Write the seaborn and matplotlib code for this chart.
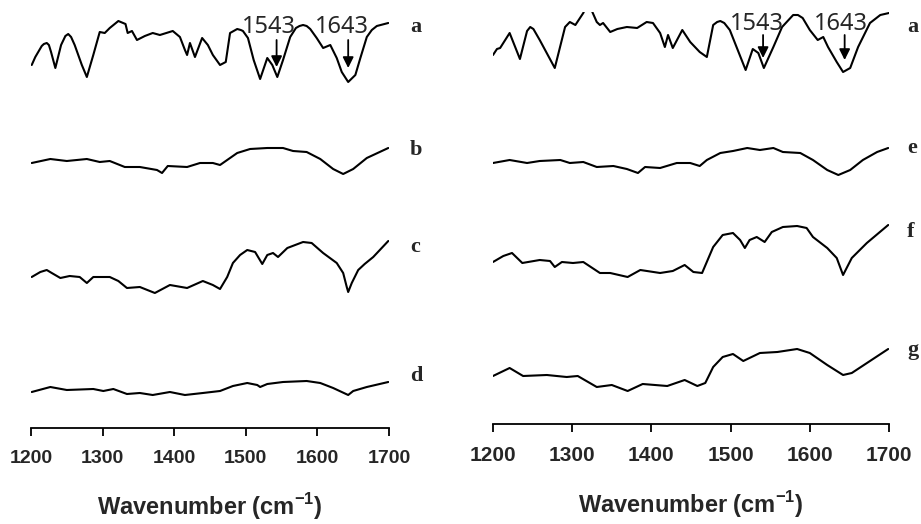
import matplotlib
matplotlib.use("Agg")
import matplotlib.pyplot as plt
import matplotlib.font_manager as fm
import seaborn as sns
import pandas as pd

# ---------------- data (wavenumber, offset intensity) ----------------
# left panel
wn_a1 = [1201, 1206, 1215, 1218, 1222, 1225, 1228, 1234, 1242, 1248, 1252, 1256, 1261, 1271, 1278, 1287,
         1296, 1303, 1310, 1322, 1332, 1335, 1341, 1348, 1359, 1370, 1380, 1398, 1408, 1415, 1418, 1422,
         1429, 1439, 1447, 1454, 1464, 1472, 1478, 1483, 1488, 1493, 1496, 1503, 1511, 1520, 1530, 1537,
         1544, 1552, 1562, 1570, 1575, 1580, 1585, 1590, 1599, 1608, 1618, 1627, 1634, 1643, 1653, 1660,
         1669, 1676, 1683, 1699]
a1 = [363, 371, 382, 384, 385, 383, 376, 360, 383, 392, 394, 391, 383, 363, 351, 373,
      396, 395, 400, 407, 404, 395, 397, 388, 392, 395, 393, 397, 391, 378, 373, 385,
      371, 390, 383, 373, 363, 366, 395, 397, 399, 398, 397, 390, 368, 349, 370, 363,
      351, 368, 391, 400, 402, 403, 402, 399, 390, 380, 383, 370, 356, 346, 353, 370,
      391, 398, 402, 405]

wn_b = [1201, 1227, 1250, 1278, 1296, 1310, 1331, 1352, 1376, 1383, 1391, 1418, 1436, 1454, 1464,
        1488, 1506, 1530, 1552, 1566, 1585, 1604, 1622, 1636, 1650, 1669, 1687, 1699]
b = [265, 269, 267, 269, 266, 267, 261, 261, 258, 255, 262, 261, 265, 265, 263,
     275, 279, 280, 280, 277, 276, 269, 259, 254, 259, 270, 276, 280]

wn_c = [1201, 1213, 1222, 1229, 1241, 1254, 1268, 1278, 1287, 1310, 1322, 1334, 1352, 1373, 1394,
        1418, 1440, 1454, 1464, 1474, 1482, 1492, 1502, 1513, 1523, 1530, 1538, 1545, 1558, 1580,
        1592, 1608, 1627, 1636, 1641, 1643, 1648, 1657, 1666, 1678, 1699]
c = [151, 156, 158, 155, 150, 152, 151, 145, 151, 151, 147, 140, 141, 135, 143,
     140, 147, 143, 139, 151, 165, 173, 178, 176, 164, 173, 175, 171, 180, 186,
     185, 175, 165, 155, 141, 136, 145, 158, 164, 171, 187]

wn_d = [1201, 1227, 1250, 1287, 1301, 1315, 1334, 1352, 1370, 1394, 1415, 1440, 1464, 1482, 1502,
        1516, 1520, 1530, 1552, 1585, 1604, 1622, 1643, 1650, 1669, 1699]
d = [36, 41, 38, 39, 37, 39, 34, 35, 33, 36, 33, 35, 37, 42, 45,
     43, 41, 44, 46, 47, 45, 40, 33, 37, 41, 46]

# right panel
wn_a2 = [1200, 1205, 1209, 1221, 1234, 1243, 1247, 1251, 1259, 1278, 1291, 1297, 1304, 1314, 1320,
         1326, 1331, 1335, 1339, 1348, 1357, 1369, 1382, 1394, 1402, 1411, 1417, 1421, 1427, 1439,
         1449, 1461, 1470, 1478, 1483, 1487, 1492, 1499, 1509, 1519, 1528, 1535, 1542, 1554, 1565,
         1579, 1585, 1591, 1600, 1610, 1617, 1623, 1634, 1642, 1651, 1661, 1676, 1689, 1700]
a2 = [369, 375, 376, 391, 365, 393, 397, 395, 384, 356, 397, 402, 399, 411, 422,
      411, 402, 399, 401, 392, 395, 397, 396, 402, 401, 391, 377, 389, 376, 394,
      382, 372, 367, 399, 402, 403, 401, 394, 374, 354, 375, 371, 356, 377, 397,
      409, 409, 406, 394, 384, 387, 377, 362, 352, 356, 377, 401, 409, 411]

wn_e = [1200, 1221, 1243, 1259, 1285, 1297, 1314, 1331, 1352, 1369, 1383, 1392, 1411, 1432, 1449,
        1461, 1470, 1487, 1503, 1521, 1537, 1554, 1566, 1588, 1604, 1622, 1636, 1651, 1667, 1685, 1699]
e = [261, 264, 261, 263, 264, 261, 262, 257, 258, 255, 251, 257, 256, 261, 261,
     258, 264, 271, 273, 276, 274, 276, 272, 271, 264, 254, 249, 254, 264, 272, 276]

wn_f = [1200, 1213, 1224, 1237, 1259, 1272, 1278, 1287, 1301, 1314, 1335, 1348, 1370, 1386, 1411,
        1427, 1442, 1453, 1464, 1478, 1490, 1503, 1512, 1518, 1524, 1533, 1543, 1552, 1566, 1584,
        1596, 1604, 1622, 1634, 1642, 1653, 1672, 1699]
f = [162, 168, 171, 161, 164, 163, 157, 162, 161, 162, 151, 151, 147, 154, 151,
     153, 159, 152, 151, 177, 189, 191, 184, 176, 184, 187, 182, 192, 197, 198,
     196, 187, 176, 166, 149, 166, 181, 199]

wn_g = [1200, 1221, 1238, 1268, 1293, 1307, 1331, 1350, 1370, 1389, 1420, 1442, 1458, 1468, 1478,
        1490, 1503, 1516, 1537, 1559, 1584, 1600, 1622, 1642, 1653, 1676, 1699]
g = [48, 56, 48, 49, 47, 48, 37, 39, 33, 40, 38, 44, 38, 41, 57,
     67, 70, 63, 71, 72, 75, 71, 59, 49, 51, 63, 75]

left_curves = [("a", wn_a1, a1), ("b", wn_b, b), ("c", wn_c, c), ("d", wn_d, d)]
right_curves = [("a", wn_a2, a2), ("e", wn_e, e), ("f", wn_f, f), ("g", wn_g, g)]
xticks = [1200, 1300, 1400, 1500, 1600, 1700]
peak_labels = ["1543", "1643"]

# ---------------- style ----------------
sns.set_theme(style="white")
plt.rcParams["font.family"] = ["Liberation Sans", "DejaVu Sans"]
plt.rcParams["mathtext.fontset"] = "custom"
plt.rcParams["mathtext.rm"] = "Liberation Sans"
plt.rcParams["mathtext.bf"] = "Liberation Sans:bold"

names = {fnt.name for fnt in fm.fontManager.ttflist}
if "Liberation Sans Narrow" in names:
    ann_family, ann_size = "Liberation Sans Narrow", 19
else:
    ann_family, ann_size = "Noto Sans", 17

W, H = 921, 524
fig = plt.figure(figsize=(W / 100, H / 100), dpi=100)

panels = [
    dict(curves=left_curves, px=(31, 389), axis_y=428, top_y=0, tick_fs=14,
         label_pos={"a": 396, "b": 273, "c": 176, "d": 47}, label_x=1729,
         ann=[(1532, 401, 1543, 388, 361), (1634, 401, 1643, 388, 360)]),
    dict(curves=right_curves, px=(493, 889), axis_y=424, top_y=12, tick_fs=15,
         label_pos={"a": 392, "e": 271, "f": 187, "g": 69}, label_x=1723,
         ann=[(1533, 400, 1541, 389, 366), (1639, 400, 1644, 389, 364)]),
]

for p in panels:
    x0, x1 = p["px"]
    ax = fig.add_axes([x0 / W, (H - p["axis_y"]) / H, (x1 - x0) / W,
                       (p["axis_y"] - p["top_y"]) / H])
    for name, wn, val in p["curves"]:
        df = pd.DataFrame({"wavenumber": wn, "intensity": val})
        sns.lineplot(data=df, x="wavenumber", y="intensity", ax=ax, color="black",
                     lw=1.5, sort=False, estimator=None,
                     solid_joinstyle="round", solid_capstyle="round")
        ax.text(p["label_x"], p["label_pos"][name], name, family="Liberation Serif",
                fontweight="bold", fontsize=16, ha="left", va="baseline", clip_on=False)
    for lab, (tx, ty, px_, ys, ye) in zip(peak_labels, p["ann"]):
        ax.text(tx, ty, lab, family=ann_family, fontsize=ann_size, ha="center", va="center")
        ax.annotate("", xy=(px_, ye), xytext=(px_, ys),
                    arrowprops=dict(arrowstyle="-|>", color="black", lw=1.3,
                                    mutation_scale=16, shrinkA=0, shrinkB=0))
    ax.set_xlim(1200, 1700)
    ax.set_ylim(0, p["axis_y"] - p["top_y"])
    ax.set_xticks(xticks)
    ax.set_xticklabels([str(t) for t in xticks], fontweight="bold", fontsize=p["tick_fs"])
    ax.set_yticks([])
    ax.set_ylabel("")
    ax.set_xlabel(r"Wavenumber (cm$^{\mathbf{-1}}$)", fontweight="bold", fontsize=17,
                  labelpad=17.5)
    for s in ["top", "right", "left"]:
        ax.spines[s].set_visible(False)
    ax.spines["bottom"].set_color("black")
    ax.spines["bottom"].set_linewidth(1.3)
    ax.tick_params(axis="x", direction="out", length=6, width=1.3, color="black",
                   pad=10, bottom=True)
    ax.patch.set_alpha(0)

fig.savefig("out.png", dpi=100)
